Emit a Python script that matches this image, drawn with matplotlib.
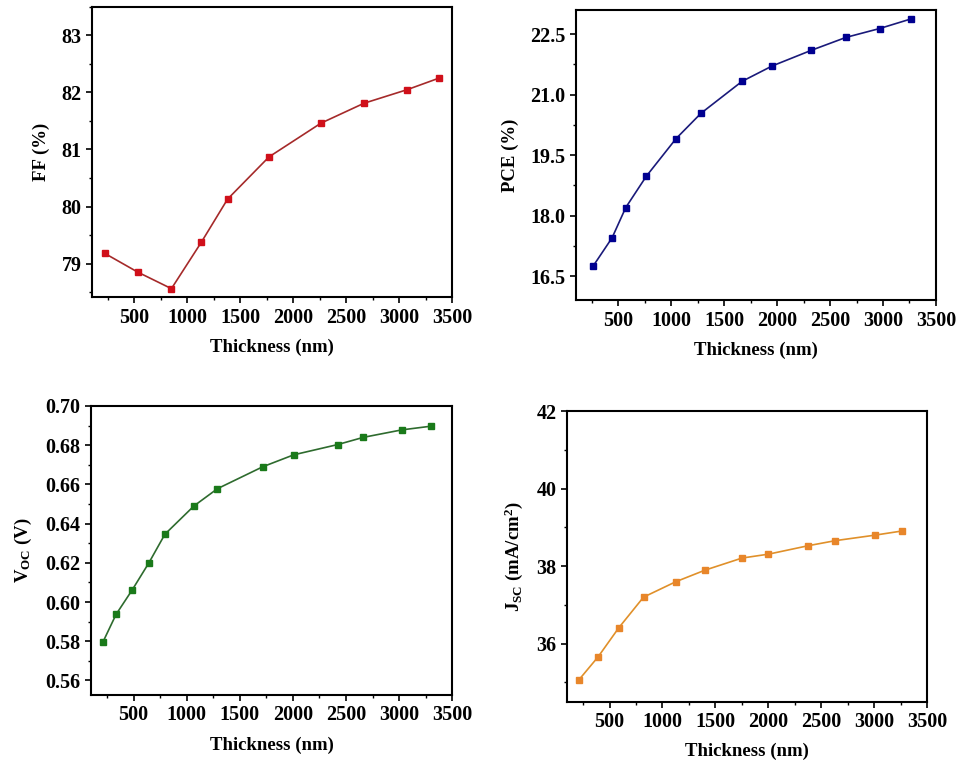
import matplotlib
matplotlib.use("Agg")
import matplotlib.pyplot as plt
from matplotlib.ticker import MultipleLocator

plt.rcParams['font.family'] = ['Liberation Serif', 'DejaVu Serif']
plt.rcParams['font.weight'] = 'bold'
plt.rcParams['mathtext.fontset'] = 'custom'
plt.rcParams['mathtext.rm'] = 'Liberation Serif:bold'
plt.rcParams['mathtext.bf'] = 'Liberation Serif:bold'
plt.rcParams['mathtext.it'] = 'Liberation Serif:bold'

# FF vs thickness
ff_x = [219, 532, 850, 1131, 1380, 1771, 2260, 2667, 3077, 3374]
ff_y = [79.18, 78.85, 78.56, 79.37, 80.13, 80.87, 81.46, 81.81, 82.05, 82.25]

# PCE vs thickness
pce_x = [267, 443, 572, 767, 1047, 1283, 1670, 1953, 2324, 2651, 2969, 3267]
pce_y = [16.76, 17.45, 18.20, 18.98, 19.91, 20.54, 21.33, 21.71, 22.10, 22.42, 22.64, 22.88]

# VOC vs thickness
voc_x = [214, 336, 487, 645, 796, 1069, 1290, 1717, 2009, 2421, 2664, 3025, 3302]
voc_y = [0.5798, 0.5937, 0.6061, 0.6200, 0.6346, 0.6490, 0.6578, 0.6690, 0.6751,
         0.6803, 0.6840, 0.6878, 0.6897]

# JSC vs thickness
jsc_x = [213, 393, 588, 821, 1127, 1404, 1751, 2000, 2378, 2633, 3002, 3263]
jsc_y = [35.07, 35.66, 36.41, 37.20, 37.60, 37.90, 38.21, 38.31, 38.53, 38.66, 38.80, 38.91]

fig = plt.figure(figsize=(9.58, 7.66), dpi=100)

panels = [
    # rect, x, y, line color, marker color, ylim, major, minor, ylabel, fmt
    ([0.096, 0.612, 0.376, 0.379], ff_x, ff_y, "#a52a2a", "#d0101a",
     (78.41, 83.5), 1, 0.5, "FF (%)", "{:.0f}"),
    ([0.601, 0.608, 0.376, 0.379], pce_x, pce_y, "#1a1a7a", "#000090",
     (15.9, 23.1), 1.5, 0.75, "PCE (%)", "{:.1f}"),
    ([0.095, 0.093, 0.377, 0.377], voc_x, voc_y, "#2e6b2e", "#1a7a1a",
     (0.5527, 0.70), 0.02, 0.01, r"V$_{\mathrm{OC}}$ (V)", "{:.2f}"),
    ([0.592, 0.084, 0.376, 0.379], jsc_x, jsc_y, "#e0902a", "#e8862a",
     (34.5, 42), 2, 1, r"J$_{\mathrm{SC}}$ (mA/cm$^{2}$)", "{:.0f}"),
]

for rect, x, y, lc, mc, ylim, major, minor, ylabel, fmt in panels:
    ax = fig.add_axes(rect)
    ax.plot(x, y, color=lc, lw=1.2, marker="s", markersize=4.5,
            markerfacecolor=mc, markeredgecolor=mc)
    ax.set_xlim(100, 3500)
    ax.set_ylim(*ylim)
    ax.xaxis.set_major_locator(MultipleLocator(500))
    ax.xaxis.set_minor_locator(MultipleLocator(250))
    ax.yaxis.set_major_locator(MultipleLocator(major))
    ax.yaxis.set_minor_locator(MultipleLocator(minor))
    ax.set_xticks([500, 1000, 1500, 2000, 2500, 3000, 3500])
    ax.set_yticklabels([fmt.format(v) for v in ax.get_yticks()])
    ax.set_ylim(*ylim)
    ax.tick_params(axis="both", which="major", direction="out", length=4,
                   width=1.2, labelsize=14.5)
    ax.tick_params(axis="both", which="minor", direction="out", length=2.5, width=1)
    ax.tick_params(top=False, right=False)
    for s in ax.spines.values():
        s.set_linewidth(1.5)
    ax.set_xlabel("Thickness (nm)", fontsize=13.5, fontweight="bold", labelpad=8)
    ax.set_ylabel(ylabel, fontsize=13.5, fontweight="bold", labelpad=8)

fig.savefig("out.png", dpi=100)
